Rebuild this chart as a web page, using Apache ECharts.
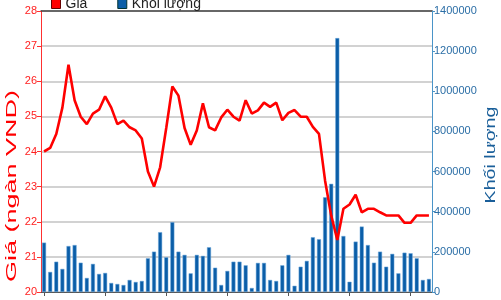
<!DOCTYPE html>
<html>
<head>
<meta charset="utf-8">
<script src="https://cdn.jsdelivr.net/npm/echarts@6/dist/echarts.min.js"></script>
<style>
html,body{margin:0;padding:0;background:#fff;}
#c{width:501px;height:300px;}
</style>
</head>
<body>
<div id="c"></div>
<script>
// Price (thousand VND), 64 sessions
const price = [24.0,24.1,24.5,25.25,26.47,25.46,24.99,24.78,25.08,25.19,
  25.57,25.25,24.78,24.88,24.69,24.6,24.37,23.43,23.0,23.55,
  24.67,25.85,25.59,24.67,24.19,24.6,25.37,24.69,24.6,24.97,
  25.19,24.99,24.88,25.46,25.08,25.17,25.39,25.27,25.39,24.89,
  25.1,25.18,24.99,24.99,24.7,24.5,23.17,22.18,21.48,22.37,
  22.49,22.77,22.27,22.37,22.37,22.27,22.18,22.18,22.18,21.97,
  21.97,22.18,22.18,22.18];
// Volume (shares)
const volume = [246000,100000,151000,115000,229000,234000,146000,70000,140000,90000,
  95000,45000,40000,35000,60000,50000,55000,168000,201000,298000,
  173000,348000,201000,185000,93000,185000,180000,223000,121000,35000,
  105000,151000,151000,133000,20000,145000,145000,60000,55000,133000,
  185000,31000,126000,155000,273000,263000,472000,539000,1265000,279000,
  51000,251000,326000,234000,146000,201000,126000,190000,93000,196000,
  193000,168000,60000,65000];
const categories = price.map((_, i) => String(i + 1));
const priceTicks = { min: 20, max: 28, interval: 1 };
const volumeTicks = { min: 0, max: 1400000, interval: 200000 };
const priceAxisTitle = 'Giá (ngàn VND)';
const volumeAxisTitle = 'Khối lượng';

const chart = echarts.init(document.getElementById('c'), null, { renderer: 'canvas' });
chart.setOption({
  animation: false,
  backgroundColor: '#fff',
  textStyle: { fontFamily: 'Liberation Sans, Arial, sans-serif' },
  legend: {
    left: 46, top: -8, itemWidth: 9, itemHeight: 9, itemGap: 30,
    textStyle: { fontSize: 14, color: '#222' },
    data: [
      { name: 'Giá', icon: 'rect', itemStyle: { color: '#ff0000', borderColor: '#600', borderWidth: 1 } },
      { name: 'Khối lượng', icon: 'rect', itemStyle: { color: '#0b5ea8', borderColor: '#033', borderWidth: 1 } }
    ]
  },
  graphic: [
    {
      type: 'text', x: 12, y: 186, rotation: Math.PI / 2, scaleX: 1.8, silent: true,
      style: { text: priceAxisTitle, fill: '#ff0000', fontSize: 15, fontFamily: 'Liberation Sans, Arial, sans-serif',
        align: 'center', verticalAlign: 'middle', textAlign: 'center', textVerticalAlign: 'middle' }
    },
    {
      type: 'text', x: 491, y: 155, rotation: Math.PI / 2, scaleX: 1.4, silent: true,
      style: { text: volumeAxisTitle, fill: '#1a5f9a', fontSize: 14, fontFamily: 'Liberation Sans, Arial, sans-serif',
        align: 'center', verticalAlign: 'middle', textAlign: 'center', textVerticalAlign: 'middle' }
    }
  ],
  grid: { left: 41, right: 69, top: 11, bottom: 8, containLabel: false, outerBoundsMode: 'none' },
  xAxis: [
    {
      type: 'category', data: categories, boundaryGap: true, position: 'bottom',
      axisLine: { lineStyle: { color: '#555', width: 1 } },
      axisTick: { show: true, alignWithLabel: true, interval: 9, length: 4, lineStyle: { color: '#555' } },
      axisLabel: { show: false }, splitLine: { show: false }
    },
    {
      type: 'category', data: categories, position: 'top',
      axisLine: { lineStyle: { color: '#444', width: 1.5 } },
      axisTick: { show: false }, axisLabel: { show: false }
    }
  ],
  yAxis: [
    {
      type: 'value', position: 'left', min: priceTicks.min, max: priceTicks.max, interval: priceTicks.interval,
      axisLine: { show: true, lineStyle: { color: '#ff3030', width: 1 } },
      axisTick: { show: true, length: 4, lineStyle: { color: '#ff3030' } },
      axisLabel: { color: '#ff2020', fontSize: 11, margin: 4 },
      splitLine: { show: true, lineStyle: { color: '#d2d2d2', width: 2 } }
    },
    {
      type: 'value', position: 'right', min: volumeTicks.min, max: volumeTicks.max, interval: volumeTicks.interval,
      axisLine: { show: true, lineStyle: { color: '#4a94c8', width: 1 } },
      axisTick: { show: true, length: 3, lineStyle: { color: '#4a94c8' } },
      axisLabel: { color: '#2b6ea6', fontSize: 11, margin: 2, formatter: v => String(v) },
      splitLine: { show: false }
    }
  ],
  series: [
    {
      name: 'Khối lượng', type: 'bar', xAxisIndex: 0, yAxisIndex: 1, data: volume,
      barWidth: 4, itemStyle: { color: '#0b5ea8', borderColor: '#6fa8dc', borderWidth: 0.5 }, z: 2
    },
    {
      name: 'Giá', type: 'line', xAxisIndex: 0, yAxisIndex: 0, data: price,
      symbol: 'none', lineStyle: { color: '#ff0000', width: 2.6 }, itemStyle: { color: '#ff0000' }, z: 3
    }
  ]
});
</script>
</body>
</html>
